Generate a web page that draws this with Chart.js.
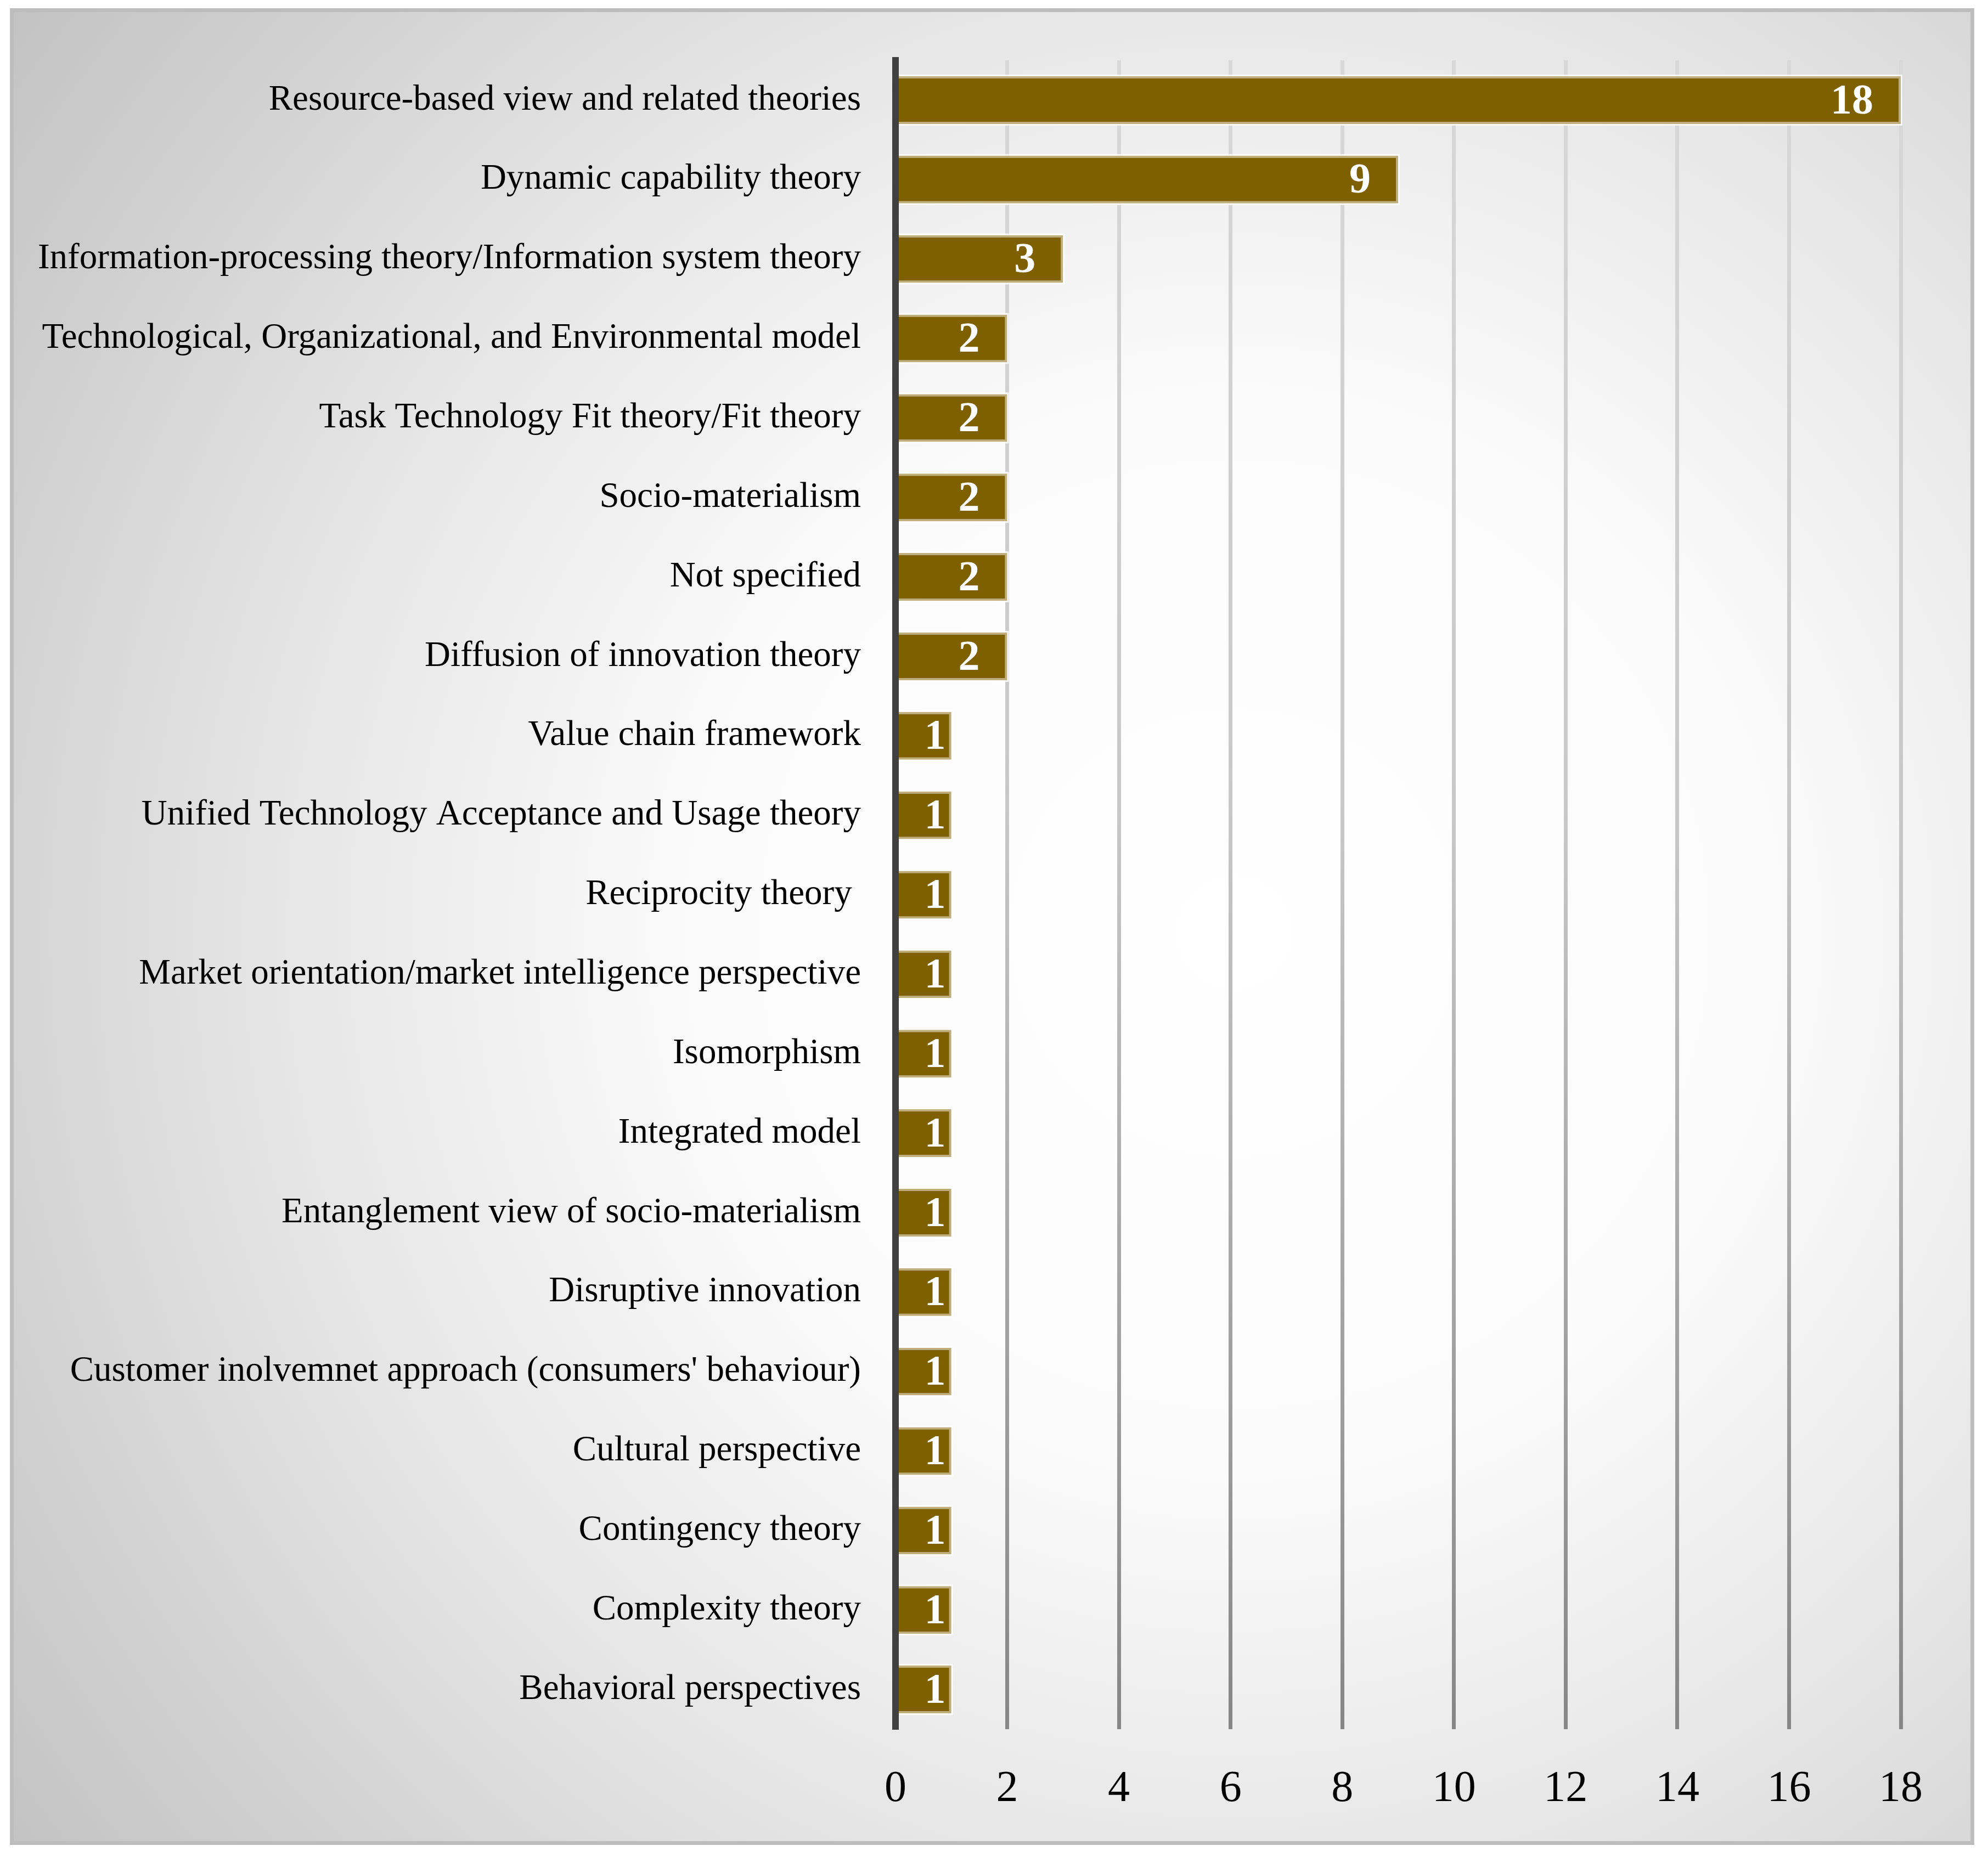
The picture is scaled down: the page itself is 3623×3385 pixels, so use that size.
<!DOCTYPE html>
<html>
<head>
<meta charset="utf-8">
<script src="https://cdn.jsdelivr.net/npm/chart.js@4/dist/chart.umd.min.js"></script>
<style>
  html, body { margin: 0; padding: 0; background: #ffffff; }
  #c { display: block; }
</style>
</head>
<body>
<canvas id="c" width="3623" height="3385"></canvas>
<script>
const categories = [
  "Resource-based view and related theories",
  "Dynamic capability theory",
  "Information-processing theory/Information system theory",
  "Technological, Organizational, and Environmental model",
  "Task Technology Fit theory/Fit theory",
  "Socio-materialism",
  "Not specified",
  "Diffusion of innovation theory",
  "Value chain framework",
  "Unified Technology Acceptance and Usage theory",
  "Reciprocity theory ",
  "Market orientation/market intelligence perspective",
  "Isomorphism",
  "Integrated model",
  "Entanglement view of socio-materialism",
  "Disruptive innovation",
  "Customer inolvemnet approach (consumers' behaviour)",
  "Cultural perspective",
  "Contingency theory",
  "Complexity theory",
  "Behavioral perspectives"
];
const counts = [18, 9, 3, 2, 2, 2, 2, 2, 1, 1, 1, 1, 1, 1, 1, 1, 1, 1, 1, 1, 1];
const xMin = 0;
const xMax = 18;
const xStep = 2;

const SERIF = "'Liberation Serif', 'Times New Roman', serif";

// Frame and radial background
const frameBg = {
  id: 'frameBg',
  beforeDraw(chart) {
    const ctx = chart.ctx;
    const W = chart.width, H = chart.height;
    ctx.save();
    ctx.fillStyle = '#ffffff';
    ctx.fillRect(0, 0, W, H);
    const x0 = 18, y0 = 15, x1 = 3598, y1 = 3363;
    const g = ctx.createRadialGradient(2250, 1700, 0, 2250, 1700, 2950);
    g.addColorStop(0, '#ffffff');
    g.addColorStop(0.33, '#fbfbfb');
    g.addColorStop(0.6, '#e5e5e5');
    g.addColorStop(0.8, '#d0d0d0');
    g.addColorStop(1, '#bebebe');
    ctx.fillStyle = g;
    ctx.fillRect(x0, y0, x1 - x0, y1 - y0);
    ctx.strokeStyle = '#bdbdbd';
    ctx.lineWidth = 7;
    ctx.strokeRect(x0 + 3.5, y0 + 3.5, x1 - x0 - 7, y1 - y0 - 7);
    ctx.restore();
  }
};

// Light halo behind each bar
const barHalo = {
  id: 'barHalo',
  beforeDatasetsDraw(chart) {
    const ctx = chart.ctx;
    const meta = chart.getDatasetMeta(0);
    ctx.save();
    ctx.fillStyle = 'rgba(255,255,255,0.8)';
    meta.data.forEach(bar => {
      const p = bar.getProps(['x', 'y', 'base', 'height'], true);
      const h = p.height;
      ctx.fillRect(p.base, p.y - h / 2 - 3, p.x - p.base + 3, h + 6);
    });
    ctx.restore();
  }
};

// Value labels inside bar end
const valueLabels = {
  id: 'valueLabels',
  afterDatasetsDraw(chart) {
    const ctx = chart.ctx;
    const meta = chart.getDatasetMeta(0);
    const data = chart.data.datasets[0].data;
    ctx.save();
    ctx.fillStyle = '#ffffff';
    ctx.font = "bold 78px " + SERIF;
    ctx.textAlign = 'right';
    ctx.textBaseline = 'middle';
    meta.data.forEach((bar, i) => {
      const p = bar.getProps(['x', 'y', 'base'], true);
      const tx = Math.max(p.x - 50, p.base + 88);
      ctx.fillText(String(data[i]), tx, p.y + 4);
    });
    ctx.restore();
  }
};

function gridGradient(context) {
  const chart = context.chart;
  const area = chart.chartArea;
  if (!area) return '#a0a0a0';
  const g = chart.ctx.createLinearGradient(0, area.top, 0, area.bottom);
  g.addColorStop(0, '#d8d8d8');
  g.addColorStop(0.45, '#c8c8c8');
  g.addColorStop(1, '#868686');
  return g;
}

const chart = new Chart(document.getElementById('c'), {
  type: 'bar',
  data: {
    labels: categories,
    datasets: [{
      data: counts,
      backgroundColor: '#7f6000',
      borderColor: '#bfae7b',
      borderWidth: 4,
      borderSkipped: 'start',
      barPercentage: 0.6,
      categoryPercentage: 1.0
    }]
  },
  options: {
    indexAxis: 'y',
    responsive: false,
    devicePixelRatio: 1,
    animation: false,
    layout: { padding: { left: 0, right: 159, top: 110, bottom: 0 } },
    plugins: {
      legend: { display: false },
      tooltip: { enabled: false },
      title: { display: false }
    },
    scales: {
      x: {
        min: xMin,
        max: xMax,
        position: 'bottom',
        border: { display: false },
        grid: {
          display: true,
          drawTicks: false,
          lineWidth: 7,
          color: gridGradient
        },
        ticks: {
          stepSize: xStep,
          padding: 62,
          color: '#000000',
          font: { family: SERIF, size: 80 }
        },
        afterFit(scale) { scale.height = 233; }
      },
      y: {
        border: { display: true, color: '#404040', width: 12, z: 1 },
        grid: { display: false, drawTicks: false },
        ticks: {
          autoSkip: false,
          padding: 63,
          color: '#000000',
          font: { family: SERIF, size: 65 }
        },
        afterFit(scale) { scale.width = 1632; }
      }
    }
  },
  plugins: [frameBg, barHalo, valueLabels]
});
</script>
</body>
</html>
